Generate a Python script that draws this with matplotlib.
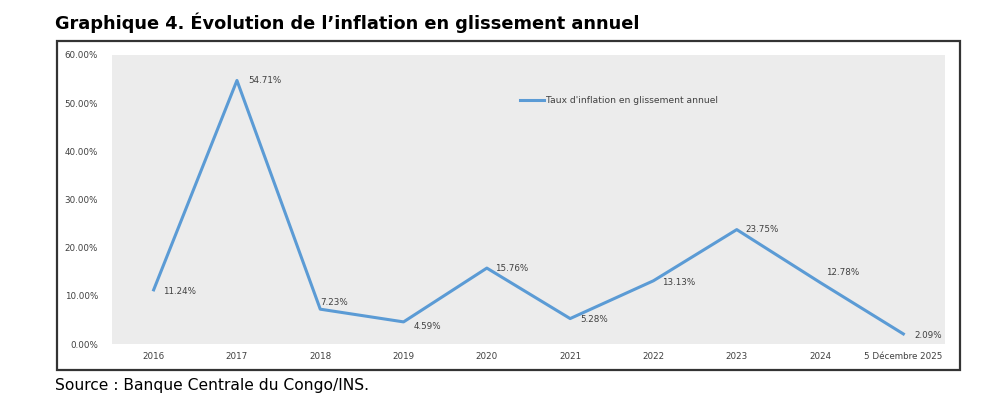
import matplotlib.pyplot as plt
from matplotlib.patches import Rectangle
from matplotlib.ticker import FuncFormatter

# data
years = ['2016', '2017', '2018', '2019', '2020', '2021', '2022', '2023', '2024',
         '5 Décembre 2025']
inflation = [11.24, 54.71, 7.23, 4.59, 15.76, 5.28, 13.13, 23.75, 12.78, 2.09]
yticks = [0, 10, 20, 30, 40, 50, 60]

# label offsets in points (dx, dy)
label_off = [(7, -1), (8, 0), (0, 5), (7, -3), (6, 0), (7, -1), (6, -1), (6, 0), (4, 7), (8, -1)]

blue = '#5b9bd5'

fig = plt.figure(figsize=(10, 4.11), dpi=100)
fig.patch.set_facecolor('white')

# outer frame of the chart
fig.patches.append(Rectangle((0.057, 1 - 370 / 411), 0.903, 329 / 411,
                             transform=fig.transFigure, fill=False,
                             edgecolor='#333333', linewidth=1.6))

ax = fig.add_axes([0.112, 1 - 344 / 411, 0.833, 289 / 411])
ax.set_facecolor('#ececec')
for s in ax.spines.values():
    s.set_visible(False)

x = list(range(len(years)))
line, = ax.plot(x, inflation, color=blue, linewidth=2.2,
                label="Taux d'inflation en glissement annuel")

for xi, v, (dx, dy) in zip(x, inflation, label_off):
    ax.annotate(f'{v:.2f}%', (xi, v), xytext=(dx, dy), textcoords='offset points',
                ha='left', va='center', fontsize=6.3, color='#404040')

ax.set_xlim(-0.5, len(years) - 0.5)
ax.set_ylim(0, 60)
ax.set_yticks(yticks)
ax.yaxis.set_major_formatter(FuncFormatter(lambda v, p: f'{v:.2f}%'))
ax.set_xticks(x)
ax.set_xticklabels(years)
ax.tick_params(axis='both', length=0, labelsize=6.3, labelcolor='#404040')
ax.tick_params(axis='y', pad=10)
ax.tick_params(axis='x', pad=6)

ax.legend(loc='upper left', bbox_to_anchor=(0.48, 0.885), frameon=False,
          fontsize=6.6, handlelength=2.6, handletextpad=0.2,
          labelcolor='#404040')

fig.text(0.055, 0.945, 'Graphique 4. Évolution de l’inflation en glissement annuel',
         fontsize=12.8, fontweight='bold', ha='left', va='center', color='black')
fig.text(0.055, 0.063, 'Source : Banque Centrale du Congo/INS.',
         fontsize=11.2, ha='left', va='center', color='black')

fig.savefig('out.png', dpi=100)
